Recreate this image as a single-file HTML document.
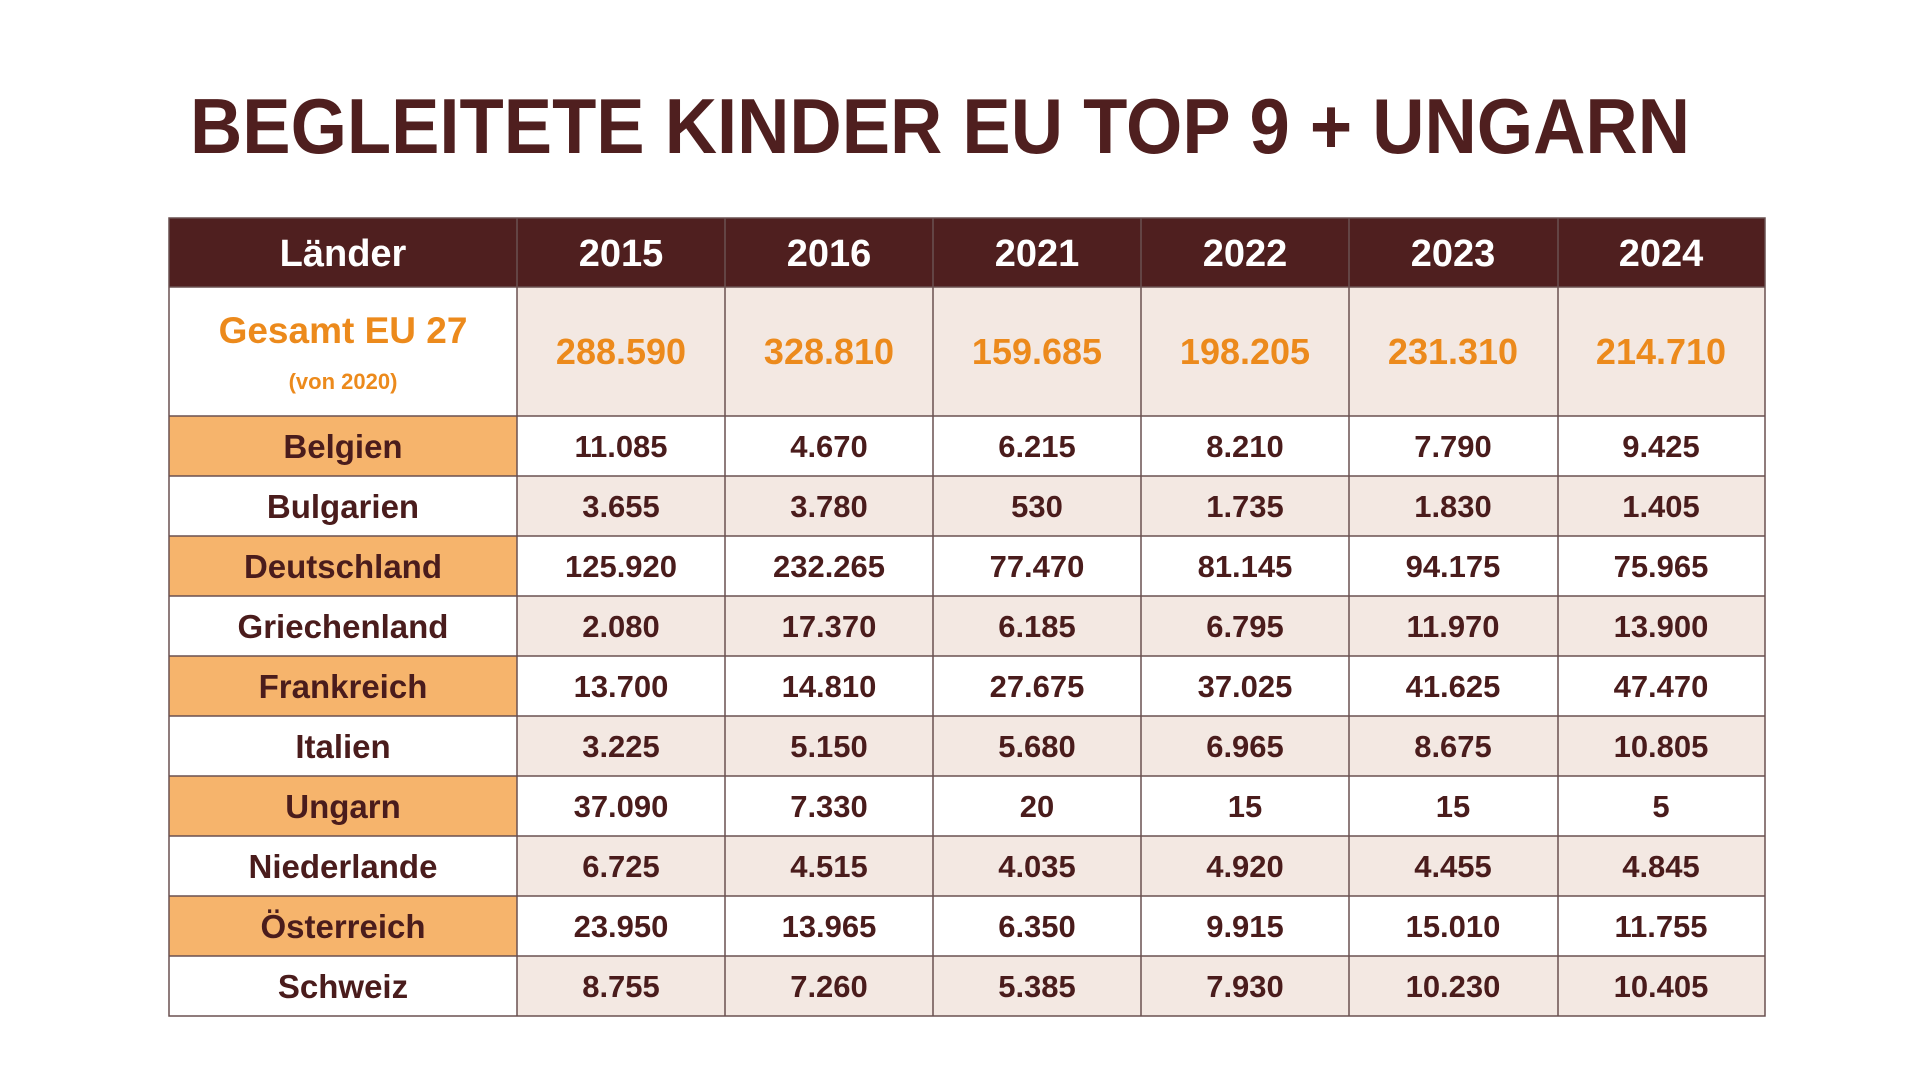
<!DOCTYPE html>
<html><head><meta charset="utf-8"><style>
html,body{margin:0;padding:0;background:#fff;width:1920px;height:1080px;overflow:hidden}
svg{display:block}
text{font-family:"Liberation Sans",sans-serif;font-weight:bold}
</style></head><body>
<svg width="1920" height="1080" viewBox="0 0 1920 1080" xmlns="http://www.w3.org/2000/svg">
<rect width="1920" height="1080" fill="#fff"/>
<text x="190" y="153" font-size="78" fill="#4f1f1f" textLength="1500" lengthAdjust="spacingAndGlyphs">BEGLEITETE KINDER EU TOP 9 + UNGARN</text>
<!-- header -->
<rect x="169" y="218" width="1596" height="69" fill="#4f1f1f"/>
<g fill="#fff" font-size="38" text-anchor="middle">
<text x="343" y="266">Länder</text><text x="621" y="266">2015</text><text x="829" y="266">2016</text><text x="1037" y="266">2021</text><text x="1245" y="266">2022</text><text x="1453" y="266">2023</text><text x="1661" y="266">2024</text>
</g>
<!-- gesamt row -->
<rect x="517" y="287" width="1248" height="129" fill="#f3e8e2"/>
<g fill="#ec8a1c" text-anchor="middle">
<text x="343" y="343" font-size="37">Gesamt EU 27</text>
<text x="343" y="389" font-size="22">(von 2020)</text>
<g font-size="36"><text x="621" y="364">288.590</text><text x="829" y="364">328.810</text><text x="1037" y="364">159.685</text><text x="1245" y="364">198.205</text><text x="1453" y="364">231.310</text><text x="1661" y="364">214.710</text></g>
</g>
<!-- rows -->
<g id="rows">
<rect x="169" y="416" width="348" height="60" fill="#f6b46c"/>
<rect x="517" y="476" width="1248" height="60" fill="#f3e8e2"/>
<rect x="169" y="536" width="348" height="60" fill="#f6b46c"/>
<rect x="517" y="596" width="1248" height="60" fill="#f3e8e2"/>
<rect x="169" y="656" width="348" height="60" fill="#f6b46c"/>
<rect x="517" y="716" width="1248" height="60" fill="#f3e8e2"/>
<rect x="169" y="776" width="348" height="60" fill="#f6b46c"/>
<rect x="517" y="836" width="1248" height="60" fill="#f3e8e2"/>
<rect x="169" y="896" width="348" height="60" fill="#f6b46c"/>
<rect x="517" y="956" width="1248" height="60" fill="#f3e8e2"/>
</g>
<!-- grid -->
<g stroke="#6a5050" stroke-width="1.5" fill="none">
<rect x="169" y="218" width="1596" height="798"/>
<path d="M517 218V1016M725 218V1016M933 218V1016M1141 218V1016M1349 218V1016M1558 218V1016"/>
<path d="M169 287H1765M169 416H1765M169 476H1765M169 536H1765M169 596H1765M169 656H1765M169 716H1765M169 776H1765M169 836H1765M169 896H1765M169 956H1765"/>
</g>
<g fill="#4a1c1c" text-anchor="middle" font-size="31">
<g font-size="33"><text x="343" y="458">Belgien</text><text x="343" y="518">Bulgarien</text><text x="343" y="578">Deutschland</text><text x="343" y="638">Griechenland</text><text x="343" y="698">Frankreich</text><text x="343" y="758">Italien</text><text x="343" y="818">Ungarn</text><text x="343" y="878">Niederlande</text><text x="343" y="938">Österreich</text><text x="343" y="998">Schweiz</text></g>
<text x="621" y="457">11.085</text><text x="829" y="457">4.670</text><text x="1037" y="457">6.215</text><text x="1245" y="457">8.210</text><text x="1453" y="457">7.790</text><text x="1661" y="457">9.425</text>
<text x="621" y="517">3.655</text><text x="829" y="517">3.780</text><text x="1037" y="517">530</text><text x="1245" y="517">1.735</text><text x="1453" y="517">1.830</text><text x="1661" y="517">1.405</text>
<text x="621" y="577">125.920</text><text x="829" y="577">232.265</text><text x="1037" y="577">77.470</text><text x="1245" y="577">81.145</text><text x="1453" y="577">94.175</text><text x="1661" y="577">75.965</text>
<text x="621" y="637">2.080</text><text x="829" y="637">17.370</text><text x="1037" y="637">6.185</text><text x="1245" y="637">6.795</text><text x="1453" y="637">11.970</text><text x="1661" y="637">13.900</text>
<text x="621" y="697">13.700</text><text x="829" y="697">14.810</text><text x="1037" y="697">27.675</text><text x="1245" y="697">37.025</text><text x="1453" y="697">41.625</text><text x="1661" y="697">47.470</text>
<text x="621" y="757">3.225</text><text x="829" y="757">5.150</text><text x="1037" y="757">5.680</text><text x="1245" y="757">6.965</text><text x="1453" y="757">8.675</text><text x="1661" y="757">10.805</text>
<text x="621" y="817">37.090</text><text x="829" y="817">7.330</text><text x="1037" y="817">20</text><text x="1245" y="817">15</text><text x="1453" y="817">15</text><text x="1661" y="817">5</text>
<text x="621" y="877">6.725</text><text x="829" y="877">4.515</text><text x="1037" y="877">4.035</text><text x="1245" y="877">4.920</text><text x="1453" y="877">4.455</text><text x="1661" y="877">4.845</text>
<text x="621" y="937">23.950</text><text x="829" y="937">13.965</text><text x="1037" y="937">6.350</text><text x="1245" y="937">9.915</text><text x="1453" y="937">15.010</text><text x="1661" y="937">11.755</text>
<text x="621" y="997">8.755</text><text x="829" y="997">7.260</text><text x="1037" y="997">5.385</text><text x="1245" y="997">7.930</text><text x="1453" y="997">10.230</text><text x="1661" y="997">10.405</text>
</g>
</svg>
</body></html>
